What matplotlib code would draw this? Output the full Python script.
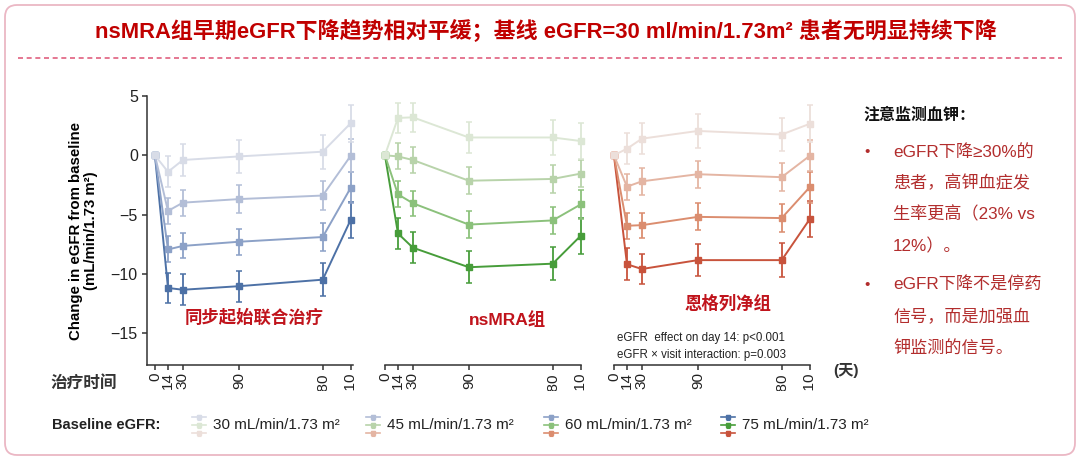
import matplotlib
matplotlib.use("Agg")
import matplotlib.pyplot as plt
from matplotlib.patches import FancyBboxPatch
from matplotlib.lines import Line2D
from matplotlib.transforms import Bbox, TransformedBbox, IdentityTransform

plt.rcParams['font.family'] = ['Liberation Sans', 'Noto Sans CJK SC', 'DejaVu Sans']
plt.rcParams['axes.unicode_minus'] = True

# data
days = [0, 14, 30, 90, 180, 210]
day_labels = ['0', '14', '30', '90', '180', '210']
baselines = ['30 mL/min/1.73 m²', '45 mL/min/1.73 m²', '60 mL/min/1.73 m²', '75 mL/min/1.73 m²']

combo_30 = [0, -1.4, -0.4, -0.1, 0.3, 2.7]
combo_45 = [0, -4.7, -4.0, -3.7, -3.4, -0.05]
combo_60 = [0, -7.95, -7.65, -7.3, -6.9, -2.75]
combo_75 = [0, -11.2, -11.35, -11.05, -10.5, -5.45]
combo_err_30 = [0, 1.3, 1.35, 1.4, 1.45, 1.55]
combo_err_45 = [0, 1.1, 1.1, 1.15, 1.2, 1.4]
combo_err_60 = [0, 1.1, 1.05, 1.1, 1.2, 1.3]
combo_err_75 = [0, 1.3, 1.3, 1.3, 1.4, 1.5]

ns_30 = [0, 3.15, 3.2, 1.5, 1.5, 1.2]
ns_45 = [0, -0.1, -0.4, -2.15, -2.0, -1.55]
ns_60 = [0, -3.3, -4.05, -5.85, -5.5, -4.15]
ns_75 = [0, -6.6, -7.8, -9.45, -9.15, -6.8]
ns_err_30 = [0, 1.25, 1.25, 1.3, 1.5, 1.5]
ns_err_45 = [0, 1.1, 1.1, 1.15, 1.2, 1.15]
ns_err_60 = [0, 1.1, 1.05, 1.15, 1.15, 1.25]
ns_err_75 = [0, 1.3, 1.3, 1.35, 1.4, 1.5]

em_30 = [0, 0.55, 1.4, 2.05, 1.75, 2.65]
em_45 = [0, -2.65, -2.2, -1.6, -1.85, -0.05]
em_60 = [0, -5.95, -5.9, -5.2, -5.3, -2.7]
em_75 = [0, -9.2, -9.6, -8.85, -8.85, -5.4]
em_err_30 = [0, 1.3, 1.3, 1.4, 1.4, 1.55]
em_err_45 = [0, 1.1, 1.15, 1.15, 1.2, 1.3]
em_err_60 = [0, 1.1, 1.05, 1.15, 1.15, 1.3]
em_err_75 = [0, 1.35, 1.3, 1.35, 1.45, 1.5]

blues = ['#d8dce7', '#b3bed7', '#8ca1c7', '#4d71a6']
greens = ['#dce7d5', '#b8d3aa', '#8bc17b', '#479d3a']
reds = ['#ecdfda', '#e4b5a3', '#db8d6f', '#c8533c']

panels = [
    ('同步起始联合治疗', [combo_30, combo_45, combo_60, combo_75],
     [combo_err_30, combo_err_45, combo_err_60, combo_err_75], blues),
    ('nsMRA组', [ns_30, ns_45, ns_60, ns_75],
     [ns_err_30, ns_err_45, ns_err_60, ns_err_75], greens),
    ('恩格列净组', [em_30, em_45, em_60, em_75],
     [em_err_30, em_err_45, em_err_60, em_err_75], reds),
]

W, H = 1080, 461
fig = plt.figure(figsize=(W / 100, H / 100), dpi=100)
fig.patch.set_facecolor('white')

def fx(px):
    return px / W

def fy(py):
    return 1 - py / H

red_txt = '#c0141c'
ax_lefts = [147, 377, 606]
ax_w = 206
axes = []
for i, (name, means, errs, cols) in enumerate(panels):
    ax = fig.add_axes([fx(ax_lefts[i]), fy(365), fx(ax_w), fy(96) - fy(365)])
    # darkest first so the pale series sits on top at day 0
    for m, e, c in reversed(list(zip(means, errs, cols))):
        ax.errorbar(days, m, yerr=e, color=c, ecolor=c, marker='s', markersize=4.5,
                    lw=1.4, elinewidth=1.3, capsize=2, capthick=1.1, clip_on=False)
    ax.set_xlim(-8.5, 212.5)
    ax.set_ylim(-17.7, 5)
    ax.spines['top'].set_visible(False)
    ax.spines['right'].set_visible(False)
    for s in ('left', 'bottom'):
        ax.spines[s].set_linewidth(1.1)
        ax.spines[s].set_color('#333333')
    ax.set_xticks(days)
    ax.set_xticklabels(day_labels, rotation=90, fontsize=11, va='top')
    ax.tick_params(axis='x', length=3.6, width=1.1, color='#333333', pad=1.5,
                   labelcolor='#222222')
    if i == 0:
        ax.set_yticks([5, 0, -5, -10, -15])
        ax.tick_params(axis='y', length=3.6, width=1.1, color='#333333', labelsize=11.5,
                       labelcolor='#222222', pad=3)
        ax.set_ylabel('Change in eGFR from baseline\n(mL/min/1.73 m²)', fontsize=10.8,
                      fontweight='bold', labelpad=9, linespacing=1.1)
    else:
        ax.spines['left'].set_visible(False)
        ax.spines['bottom'].set_bounds(0, 210)
        ax.set_yticks([])
    ax.patch.set_alpha(0)
    axes.append(ax)

# x tick labels are cut off at the bottom of the source image
clip = TransformedBbox(Bbox([[0, fy(391)], [1, 1]]), fig.transFigure)
for ax in axes:
    for t in ax.get_xticklabels():
        t.set_clip_box(clip)
        t.set_clip_on(True)

# group names
fig.text(fx(254), fy(317), '同步起始联合治疗', color=red_txt, fontsize=12.5,
         fontweight='bold', ha='center', va='center')
fig.text(fx(507), fy(320), 'nsMRA组', color=red_txt, fontsize=12.5,
         fontweight='bold', ha='center', va='center')
fig.text(fx(728), fy(303), '恩格列净组', color=red_txt, fontsize=12.5,
         fontweight='bold', ha='center', va='center')

fig.text(fx(617), fy(338), 'eGFR  effect on day 14: p<0.001', fontsize=8.3,
         color='#222222', va='center')
fig.text(fx(617), fy(355), 'eGFR × visit interaction: p=0.003', fontsize=8.3,
         color='#222222', va='center')

fig.text(fx(50), fy(383), '治疗时间', fontsize=12, fontweight='bold',
         color='#333333', va='center')
fig.text(fx(833), fy(370), '(天)', fontsize=11, fontweight='bold',
         color='#333333', va='center')

# title and frame
fig.text(fx(546), fy(31), 'nsMRA组早期eGFR下降趋势相对平缓；基线 eGFR=30 ml/min/1.73m² 患者无明显持续下降',
         color='#c00000', fontsize=15.8, fontweight='bold', ha='center', va='center')
fig.add_artist(Line2D([fx(18), fx(1062)], [fy(58), fy(58)], color='#e0607f',
                      lw=1.2, ls=(0, (3, 2.2))))
fig.add_artist(FancyBboxPatch((5, 6), 1070, 450, boxstyle='round,pad=0,rounding_size=12',
                              transform=IdentityTransform(), facecolor='none',
                              edgecolor='#ebb7c4', lw=1.3))

# side notes
fig.text(fx(863), fy(115), '注意监测血钾：', fontsize=11.5, fontweight='bold',
         color='#111111', va='center')
note_color = '#b22d2d'
notes = [
    (152, '•', 'eGFR下降≥30%的'),
    (183, '', '患者，高钾血症发'),
    (214, '', '生率更高（23% vs'),
    (246, '', '12%）。'),
    (285, '•', 'eGFR下降不是停药'),
    (317, '', '信号，而是加强血'),
    (348, '', '钾监测的信号。'),
]
for py, b, s in notes:
    if b:
        fig.text(fx(864), fy(py), b, fontsize=11, color=note_color, va='center')
    fig.text(fx(893), fy(py), s, fontsize=12.3, color=note_color, va='center')

# legend
lg = fig.add_axes([0, 0, 1, 1])
lg.set_xlim(0, W)
lg.set_ylim(H, 0)
lg.axis('off')
lg.patch.set_alpha(0)
lg.text(52, 425, 'Baseline eGFR:', fontsize=10.5, fontweight='bold', color='#222222', va='center')
leg_x = [199, 373, 551, 728]
for k, lab in enumerate(baselines):
    x0 = leg_x[k]
    for j, cols in enumerate([blues, greens, reds]):
        yy = 417 + 8 * j
        lg.plot([x0 - 7, x0 + 7], [yy, yy], color=cols[k], lw=1.2)
        lg.errorbar([x0], [yy], yerr=[2.5], color=cols[k], marker='s', markersize=3,
                    capsize=1.5, elinewidth=1, capthick=0.8)
    lg.text(x0 + 14, 425, lab, fontsize=11, color='#222222', va='center')

fig.savefig('out.png', dpi=100, facecolor='white')
